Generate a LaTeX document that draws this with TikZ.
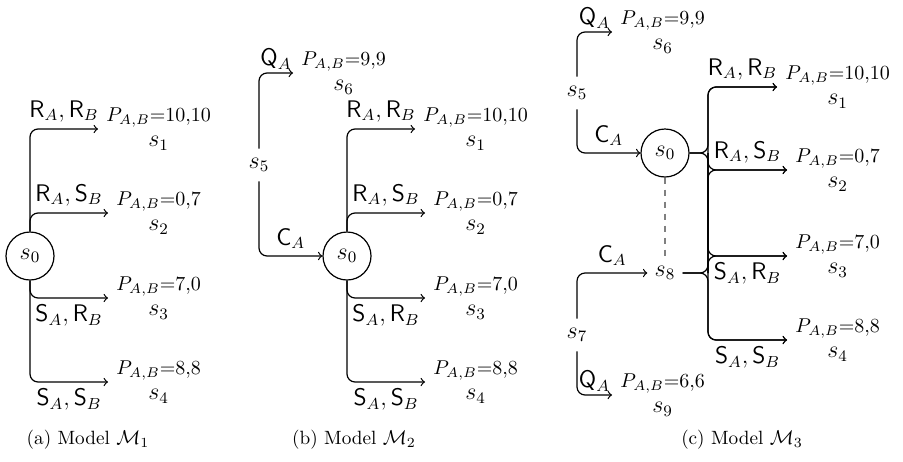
\documentclass[tikz,border=0pt]{standalone}
\usepackage{amsmath,amssymb}
\usepackage{tikz}
\usetikzlibrary{arrows.meta}

\newcommand{\payoff}[3]{{\normalsize$P_{A,B}{=}#1{,}#2$}\\[-1.5pt]$s_{#3}$}

\begin{document}
\begin{tikzpicture}[
    x=0.5pt, y=-0.5pt,
    state/.style={circle, draw, semithick, minimum size=24pt, inner sep=0pt, font=\large},
    plain/.style={inner sep=3.5pt, minimum height=16pt, font=\large},
    outcome/.style={anchor=west, align=center, inner sep=4pt, font=\large},
    act/.style={font=\large},
    qact/.style={font=\large, inner sep=1.5pt},
    caption/.style={font=\fontsize{9.6}{11}\selectfont},
    arrow/.style={semithick,->,>=to, rounded corners=4pt},
    info/.style={semithick, dashed, gray}
]
\useasboundingbox (0,0) rectangle (903,461);

% Model 1
\node[state] (s0a) at (30,256) {$s_0$};
\node[outcome] (a1) at (98,129) {\payoff{10}{10}{1}};
\node[outcome] (a2) at (108,213) {\payoff{0}{7}{2}};
\node[outcome] (a3) at (108,298) {\payoff{7}{0}{3}};
\node[outcome] (a4) at (108,382) {\payoff{8}{8}{4}};

\draw[arrow] (s0a.north) |- node[act, pos=.75, above] {$\mathsf{R}_A, \mathsf{R}_B$} (a1.west);
\draw[arrow] (s0a.north) |- node[act, pos=.75, above] {$\mathsf{R}_A, \mathsf{S}_B$} (a2.west);
\draw[arrow] (s0a.south) |- node[act, pos=.75, below] {$\mathsf{S}_A, \mathsf{R}_B$} (a3.west);
\draw[arrow] (s0a.south) |- node[act, pos=.75, below] {$\mathsf{S}_A, \mathsf{S}_B$} (a4.west);

\node[caption] (capa) at (88,440) {(a) Model $\mathcal{M}_1$};

% Model 2
\node[plain] (s5b) at (259,165) {$s_5$};
\node[outcome] (b6) at (293,73) {\payoff{9}{9}{6}};
\node[state] (s0b) at (347,256) {$s_0$};
\node[outcome] (b1) at (415,129) {\payoff{10}{10}{1}};
\node[outcome] (b2) at (425,213) {\payoff{0}{7}{2}};
\node[outcome] (b3) at (425,298) {\payoff{7}{0}{3}};
\node[outcome] (b4) at (425,382) {\payoff{8}{8}{4}};

\draw[arrow] (s5b.north) |- node[qact, pos=.75, above] {$\mathsf{Q}_A$} (b6.west);
\draw[arrow] (s5b.south) |- node[act, pos=.75, above] {$\mathsf{C}_A$} (s0b.west);
\draw[arrow] (s0b.north) |- node[act, pos=.75, above] {$\mathsf{R}_A, \mathsf{R}_B$} (b1.west);
\draw[arrow] (s0b.north) |- node[act, pos=.75, above] {$\mathsf{R}_A, \mathsf{S}_B$} (b2.west);
\draw[arrow] (s0b.south) |- node[act, pos=.75, below] {$\mathsf{S}_A, \mathsf{R}_B$} (b3.west);
\draw[arrow] (s0b.south) |- node[act, pos=.75, below] {$\mathsf{S}_A, \mathsf{S}_B$} (b4.west);

\node[caption] (capb) at (354,440) {(b) Model $\mathcal{M}_2$};

% Model 3
\node[plain] (s5c) at (577,93) {$s_5$};
\node[outcome] (c6) at (612,32) {\payoff{9}{9}{6}};
\node[state] (s0c) at (665,153) {$s_0$};
\node[plain] (s8) at (665,273) {$s_8$};
\node[plain] (s7) at (577,335) {$s_7$};
\node[outcome] (c9) at (612,395) {\payoff{6}{6}{9}};
\node[outcome] (c1) at (777,87) {\payoff{10}{10}{1}};
\node[outcome] (c2) at (787,170) {\payoff{0}{7}{2}};
\node[outcome] (c3) at (787,256) {\payoff{7}{0}{3}};
\node[outcome] (c4) at (787,340) {\payoff{8}{8}{4}};

% junctions on the shared trunk
\coordinate (t0) at (708,153);
\coordinate (t8) at (708,273);

\draw[arrow] (s5c.north) |- node[qact, pos=.75, above] {$\mathsf{Q}_A$} (c6.west);
\draw[arrow] (s5c.south) |- node[act, pos=.75, above] {$\mathsf{C}_A$} (s0c.west);
\draw[arrow] (s7.north) |- node[act, pos=.75, above] {$\mathsf{C}_A$} (s8.west);
\draw[arrow] (s7.south) |- node[qact, pos=.75, above] {$\mathsf{Q}_A$} (c9.west);

\draw[info] (s0c.south) -- (s8.north);

\draw[arrow] (s0c.east) -- (t0) |- node[act, pos=.75, above] {$\mathsf{R}_A, \mathsf{R}_B$} (c1.west);
\draw[arrow] (s0c.east) -- (t0) |- node[act, pos=.75, above] {$\mathsf{R}_A, \mathsf{S}_B$} (c2.west);
\draw[arrow] (s8.east) -- (t8) |- node[act, pos=.75, below] {$\mathsf{S}_A, \mathsf{R}_B$} (c3.west);
\draw[arrow] (s8.east) -- (t8) |- node[act, pos=.75, below] {$\mathsf{S}_A, \mathsf{S}_B$} (c4.west);
\foreach \from/\to in {t0/c3, t0/c4, t8/c1, t8/c2}
    \draw[arrow] (\from) |- (\to.west);

\node[caption] (capc) at (742,440) {(c) Model $\mathcal{M}_3$};

\end{tikzpicture}
\end{document}
